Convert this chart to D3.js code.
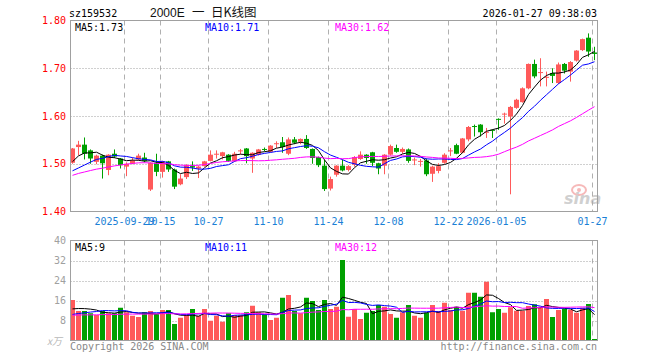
<!DOCTYPE html>
<html>
<head>
<meta charset="utf-8">
<script src="https://cdn.jsdelivr.net/npm/d3@7"></script>
<style>
body { margin: 0; background: #fff; }
svg { display: block; }
</style>
</head>
<body>
<svg width="660" height="360"></svg>
<script>
// daily candles, 2025-09-16 .. 2026-01-27 (88 sessions)
var opens = [1.502,1.535,1.540,1.528,1.504,1.517,1.487,1.521,1.511,1.494,
  1.500,1.509,1.513,1.446,1.502,1.483,1.505,1.488,1.457,1.472,
  1.495,1.490,1.495,1.506,1.519,1.516,1.519,1.505,1.527,1.532,
  1.511,1.519,1.531,1.525,1.542,1.545,1.521,1.551,1.546,1.552,
  1.531,1.514,1.496,1.448,1.477,1.496,1.487,1.498,1.510,1.519,
  1.524,1.501,1.496,1.519,1.533,1.525,1.530,1.507,1.504,1.507,
  1.479,1.485,1.502,1.526,1.539,1.523,1.551,1.579,1.582,1.565,
  1.571,1.594,1.603,1.599,1.617,1.629,1.658,1.709,1.690,1.680,
  1.690,1.669,1.709,1.693,1.716,1.738,1.764,1.733];
var highs = [1.533,1.548,1.555,1.530,1.519,1.519,1.520,1.530,1.512,1.503,
  1.513,1.521,1.523,1.503,1.521,1.506,1.506,1.490,1.478,1.499,
  1.505,1.496,1.506,1.528,1.528,1.525,1.520,1.525,1.531,1.533,
  1.524,1.531,1.534,1.539,1.547,1.556,1.555,1.556,1.553,1.560,
  1.532,1.515,1.508,1.473,1.497,1.509,1.497,1.516,1.526,1.520,
  1.525,1.502,1.520,1.540,1.540,1.534,1.532,1.513,1.510,1.511,
  1.496,1.501,1.522,1.533,1.542,1.554,1.579,1.582,1.583,1.575,
  1.572,1.595,1.607,1.621,1.636,1.660,1.710,1.718,1.721,1.693,
  1.700,1.712,1.711,1.715,1.738,1.762,1.773,1.745];
var lows = [1.500,1.518,1.509,1.500,1.499,1.469,1.476,1.512,1.490,1.474,
  1.499,1.507,1.503,1.443,1.474,1.471,1.483,1.447,1.455,1.468,
  1.485,1.470,1.494,1.505,1.511,1.509,1.504,1.504,1.520,1.501,
  1.481,1.517,1.526,1.524,1.533,1.523,1.518,1.541,1.541,1.531,
  1.500,1.493,1.443,1.444,1.473,1.484,1.484,1.494,1.508,1.500,
  1.495,1.478,1.478,1.517,1.523,1.521,1.502,1.497,1.494,1.474,
  1.462,1.480,1.500,1.516,1.520,1.522,1.547,1.557,1.557,1.554,
  1.554,1.571,1.584,1.436,1.615,1.628,1.656,1.679,1.662,1.662,
  1.669,1.667,1.689,1.672,1.714,1.736,1.724,1.717];
var closes = [1.532,1.540,1.521,1.511,1.517,1.501,1.519,1.515,1.497,1.500,
  1.507,1.517,1.506,1.502,1.483,1.505,1.488,1.452,1.469,1.497,
  1.492,1.494,1.505,1.519,1.521,1.524,1.506,1.521,1.528,1.516,
  1.523,1.530,1.529,1.538,1.543,1.535,1.551,1.544,1.552,1.533,
  1.512,1.497,1.447,1.468,1.496,1.486,1.495,1.514,1.519,1.512,
  1.502,1.490,1.519,1.537,1.525,1.531,1.506,1.509,1.506,1.478,
  1.494,1.495,1.519,1.528,1.521,1.553,1.577,1.577,1.566,1.567,
  1.570,1.593,1.605,1.619,1.634,1.658,1.709,1.683,1.692,1.682,
  1.684,1.708,1.695,1.713,1.737,1.761,1.735,1.730];
// volume, x10k lots
var volume = [16.2,11.8,11.8,10.9,10.2,11.8,10.9,10.9,13.1,11.3,
  9.9,9.4,11.3,11.8,10.5,12.2,12.2,6.6,9.1,10.2,
  12.6,9.9,12.6,7.9,9.9,7.5,10.9,10.2,10.2,11.3,
  13.9,11.3,10.5,8.2,9.1,17.1,18.2,11.8,10.9,17.1,
  15.8,12.2,16.2,12.6,13.5,32.2,9.5,12.6,8.6,11.1,
  11.8,14.2,13.5,10.6,9.1,11.3,14.2,9.9,9.1,11.1,
  14.2,11.8,15.1,12.2,13.5,11.9,19.1,19.1,17.5,23.5,
  11.3,12.6,11.1,13.3,11.9,11.9,13.8,14.5,13.5,16.6,
  9.4,12.2,12.6,12.2,11.1,13.1,14.6,0.6];

// sessions before the window (not drawn), guessed so the MA lines start where the picture has them
var priorClose = [1.42,1.43,1.42,1.43,1.44,1.44,1.45,1.44,1.45,1.46,
  1.48,1.50,1.51,1.52,1.51,1.50,1.51,1.50,1.51,1.50,
  1.48,1.46,1.45,1.46,1.48,1.48,1.49,1.51,1.51];
var priorVolume = [9,10,11,10,9,10,11,10,9,10,
  10,11,10,9,10,11,10,10,9,10,
  8,9,8,8,8,11,12,12,12];

var tickIndex = [9, 15, 23, 33, 43, 53, 63, 71, 87];
var tickLabel = ["2025-09-29", "10-15", "10-27", "11-10", "11-24", "12-08", "12-22", "2026-01-05", "01-27"];
var priceTicks = [1.40, 1.50, 1.60, 1.70, 1.80];
var volTicks = [8, 16, 24, 32, 40];
var priceMaText = ["MA5:1.73", "MA10:1.71", "MA30:1.62"];
var volMaText = ["MA5:9", "MA10:11", "MA30:12"];
var maDays = [5, 10, 30];
var maColor = ["#000", "#0000ff", "#ff00ff"];

var UP = "#ff5a5a", DOWN = "#00a000";
var MONO = "'DejaVu Sans Mono', monospace";

function movingAvg(prior, vals, n) {
  var all = prior.concat(vals);
  return vals.map(function(v, i) {
    var j = i + prior.length;
    return d3.mean(all.slice(j - n + 1, j + 1));
  });
}

var svg = d3.select("svg");
var idx = d3.range(closes.length);

var x = d3.scaleBand().domain(idx).range([70, 70 + 6 * idx.length]);
var y = d3.scaleLinear().domain([1.40, 1.80]).range([211.5, 20.5]);
var yv = d3.scaleLinear().domain([0, 40]).range([340.5, 240.5]);
var mid = function(i) { return x(i) + 2.5; };
var isUp = function(i) { return closes[i] >= opens[i]; };

// ---- titles
svg.append("text").attr("x", 69).attr("y", 16.5)
  .style("font", "10px " + MONO).attr("fill", "#000").text("sz159532");
var title = svg.append("text").attr("y", 17).attr("fill", "#111");
title.append("tspan").attr("x", 150).style("font", "12px 'Liberation Sans', sans-serif").text("2000E");
title.append("tspan").attr("x", 192).style("font", "12.5px 'Noto Sans CJK SC', sans-serif").text("一");
title.append("tspan").attr("x", 211).style("font", "12.5px 'Noto Sans CJK SC', sans-serif").text("日K线图");
svg.append("text").attr("x", 597).attr("y", 16.5).attr("text-anchor", "end")
  .style("font", "10px " + MONO).attr("fill", "#000").text("2026-01-27 09:38:03");

// ---- grids (both panels)
function panel(top, bottom, hTicks, yScale) {
  var g = svg.append("g");
  g.selectAll(".vg").data(tickIndex).enter().append("line")
    .attr("x1", function(d) { return x(d) + 0.5; })
    .attr("x2", function(d) { return x(d) + 0.5; })
    .attr("y1", top).attr("y2", bottom)
    .attr("stroke", "#b0b0b0").attr("stroke-dasharray", "5,4");
  g.selectAll(".hg").data(hTicks).enter().append("line")
    .attr("x1", 70.5).attr("x2", 597.5)
    .attr("y1", function(d) { return Math.round(yScale(d)) + 0.5; })
    .attr("y2", function(d) { return Math.round(yScale(d)) + 0.5; })
    .attr("stroke", "#a0a0a0").attr("stroke-dasharray", "1,2");
  return g;
}
panel(20.5, 211.5, [1.50, 1.60, 1.70], y);
panel(240.5, 340.5, [8, 16, 24, 32], yv);

// ---- sina watermark
var wm = svg.append("g").attr("opacity", 0.55);
wm.append("ellipse").attr("cx", 579).attr("cy", 190).attr("rx", 7).attr("ry", 5)
  .attr("fill", "none").attr("stroke", "#f08080").attr("stroke-width", 2);
wm.append("circle").attr("cx", 579).attr("cy", 190).attr("r", 2).attr("fill", "#f08080");
wm.append("text").attr("x", 564).attr("y", 204)
  .style("font", "italic bold 16px 'DejaVu Sans', sans-serif").attr("fill", "#aaa").text("sina");

// ---- candles
var candles = svg.append("g").selectAll("g").data(idx).enter().append("g")
  .attr("fill", function(i) { return isUp(i) ? UP : DOWN; })
  .attr("stroke", function(i) { return isUp(i) ? UP : DOWN; });
candles.append("line")
  .attr("x1", function(i) { return Math.floor(mid(i)) + 0.5; })
  .attr("x2", function(i) { return Math.floor(mid(i)) + 0.5; })
  .attr("y1", function(i) { return y(highs[i]); })
  .attr("y2", function(i) { return y(lows[i]); });
candles.append("rect")
  .attr("stroke", "none")
  .attr("x", function(i) { return x(i); })
  .attr("width", 5)
  .attr("y", function(i) { return y(Math.max(opens[i], closes[i])); })
  .attr("height", function(i) { return Math.max(1, Math.abs(y(opens[i]) - y(closes[i]))); });

// ---- price MAs
var line = d3.line().x(function(d, i) { return mid(i); });
maDays.forEach(function(n, k) {
  var ma = movingAvg(priorClose, closes, n);
  svg.append("path").datum(ma)
    .attr("d", line.y(function(d) { return y(d); }))
    .attr("fill", "none").attr("stroke", maColor[k]).attr("stroke-width", 1);
});

// ---- volume bars
svg.append("g").selectAll("rect").data(idx).enter().append("rect")
  .attr("x", function(i) { return x(i); })
  .attr("width", 5)
  .attr("y", function(i) { return yv(volume[i]); })
  .attr("height", function(i) { return yv(0) - yv(volume[i]); })
  .attr("fill", function(i) { return isUp(i) ? UP : DOWN; });

maDays.forEach(function(n, k) {
  var ma = movingAvg(priorVolume, volume, n);
  svg.append("path").datum(ma)
    .attr("d", line.y(function(d) { return yv(d); }))
    .attr("fill", "none").attr("stroke", maColor[k]).attr("stroke-width", 1);
});

// ---- frames
[[20.5, 211.5], [240.5, 340.5]].forEach(function(p) {
  svg.append("rect").attr("x", 70.5).attr("y", p[0])
    .attr("width", 527).attr("height", p[1] - p[0])
    .attr("fill", "none").attr("stroke", "#a0a0a0");
});

// ---- axis labels
svg.selectAll(".py").data(priceTicks).enter().append("text")
  .attr("x", 66).attr("y", function(d) { return y(d); }).attr("dy", "0.35em")
  .attr("text-anchor", "end").style("font", "10px " + MONO).attr("fill", "#f00")
  .text(function(d) { return d.toFixed(2); });
svg.selectAll(".vy").data(volTicks).enter().append("text")
  .attr("x", 66).attr("y", function(d) { return yv(d); }).attr("dy", "0.35em")
  .attr("text-anchor", "end").style("font", "10px " + MONO).attr("fill", "#a0a0a0")
  .text(function(d) { return d; });
svg.append("text").attr("x", 47).attr("y", 345)
  .style("font", "italic 10px 'Noto Sans CJK SC', sans-serif").attr("fill", "#b8b8b8").text("x万");
svg.selectAll(".xl").data(tickIndex).enter().append("text")
  .attr("x", function(d) { return x(d) + 0.5; }).attr("y", 225)
  .attr("text-anchor", "middle").style("font", "10px " + MONO).attr("fill", "#1a7fd6")
  .text(function(d, i) { return tickLabel[i]; });

// ---- MA legends
var legendX = [75, 205, 335];
priceMaText.forEach(function(t, k) {
  svg.append("text").attr("x", legendX[k]).attr("y", 31)
    .style("font", "10px " + MONO).attr("fill", maColor[k]).text(t);
});
volMaText.forEach(function(t, k) {
  svg.append("text").attr("x", legendX[k]).attr("y", 250.5)
    .style("font", "10px " + MONO).attr("fill", maColor[k]).text(t);
});

// ---- footer
svg.append("text").attr("x", 70).attr("y", 349.5)
  .style("font", "10px " + MONO).attr("fill", "#888").text("Copyright 2026 SINA.COM");
svg.append("text").attr("x", 597).attr("y", 349.5).attr("text-anchor", "end")
  .style("font", "10px " + MONO).attr("fill", "#888").text("http://finance.sina.com.cn");
</script>
</body>
</html>
